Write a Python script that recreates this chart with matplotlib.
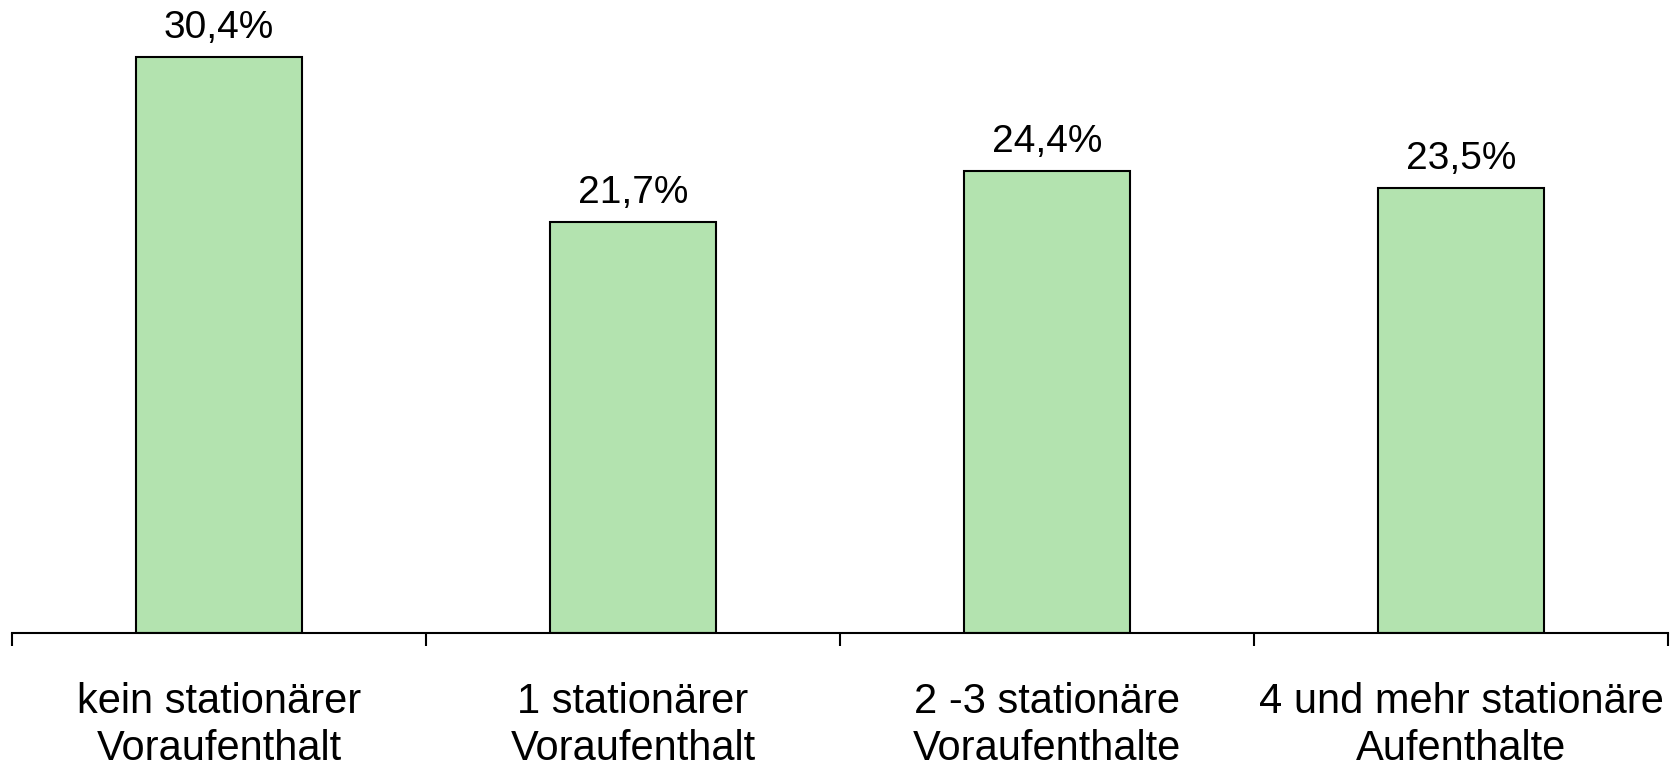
import matplotlib
matplotlib.use("Agg")
import matplotlib.pyplot as plt
import numpy as np

categories = ["kein stationärer\nVoraufenthalt", "1 stationärer\nVoraufenthalt",
              "2 -3 stationäre\nVoraufenthalte", "4 und mehr stationäre\nAufenthalte"]
values = [30.4, 21.7, 24.4, 23.5]
value_labels = ["30,4%", "21,7%", "24,4%", "23,5%"]

plt.rcParams['font.family'] = ['Liberation Sans', 'DejaVu Sans']

fig = plt.figure(figsize=(16.81, 7.68), dpi=100)
W, H = 1681, 768
left, right = 12 / W, 1668 / W
bottom = 1 - 633 / H
ax = fig.add_axes([left, bottom, right - left, 1 - bottom])

x = np.arange(len(categories))
ax.bar(x, values, width=0.4, color="#b3e3af", edgecolor="black", linewidth=1.5, zorder=2)
for xi, v, lab in zip(x, values, value_labels):
    ax.annotate(lab, (xi, v), xytext=(0, 8), textcoords="offset points",
                ha="center", va="bottom", fontsize=28)

ax.set_xlim(-0.5, len(categories) - 0.5)
ax.set_ylim(0, 633 / 18.95)
for s in ["top", "right", "left"]:
    ax.spines[s].set_visible(False)
ax.spines["bottom"].set_linewidth(1.5)
ax.set_yticks([])
ax.set_xticks(x)
ax.set_xticklabels(categories, fontsize=30, linespacing=1.25)
ax.tick_params(axis="x", which="major", length=0, pad=35)
ax.set_xticks(np.arange(-0.5, len(categories)), minor=True)
ax.tick_params(axis="x", which="minor", length=9.5, width=1.5, color="black")

fig.savefig("out.png", dpi=100)
